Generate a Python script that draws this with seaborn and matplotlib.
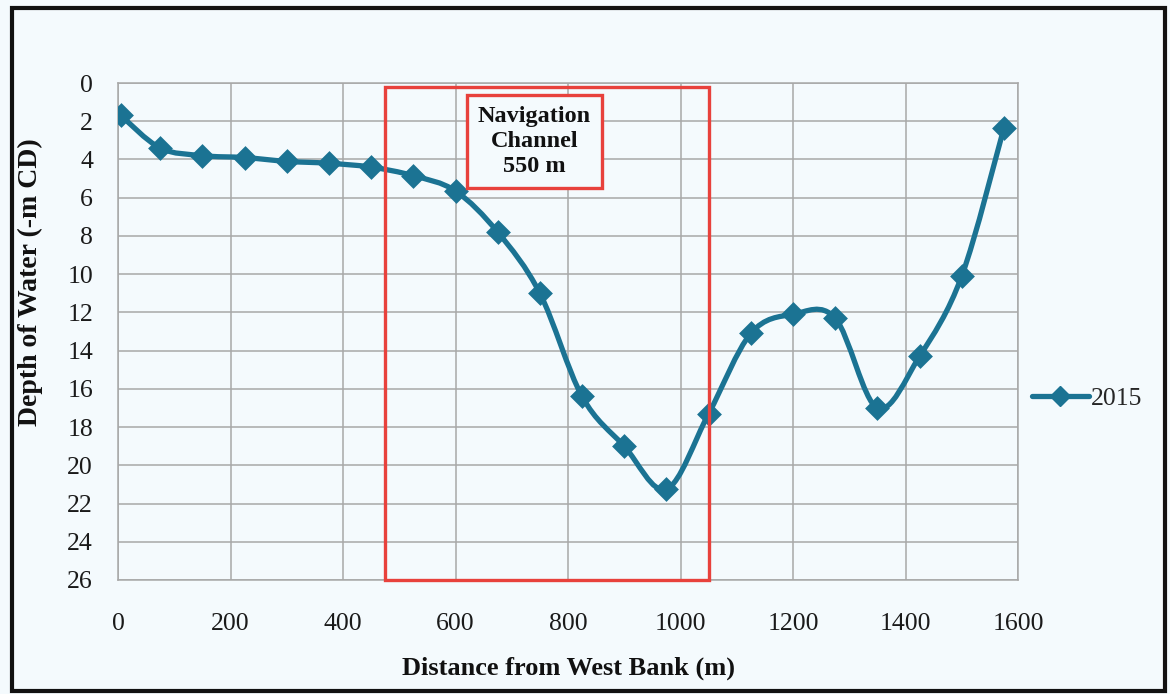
import matplotlib
matplotlib.use("Agg")
import matplotlib.pyplot as plt
import seaborn as sns
import numpy as np
import pandas as pd
from matplotlib.path import Path
from matplotlib.patches import PathPatch, Rectangle

# dados
distancia = [5, 75, 150, 225, 300, 375, 450, 525, 600, 675, 750, 825, 900, 975,
             1050, 1125, 1200, 1275, 1350, 1425, 1500, 1575]
profundidade = [1.7, 3.4, 3.8, 3.9, 4.1, 4.2, 4.4, 4.85, 5.65, 7.8, 11.0, 16.4, 19.0, 21.25,
                17.3, 13.1, 12.1, 12.3, 17.0, 14.3, 10.1, 2.35]
serie = "2015"
canal_inicio, canal_fim = 475, 1050
canal_texto = "Navigation\nChannel\n550 m"

cor_linha = "#1b7393"
cor_fundo = "#f4fafd"
cor_vermelho = "#e8413c"

sns.set_theme(style="white")
plt.rcParams['font.family'] = ['Liberation Serif', 'DejaVu Serif']

df = pd.DataFrame({"x": distancia, "y": profundidade})

fig = plt.figure(figsize=(11.7, 6.94), dpi=100, facecolor=cor_fundo)
ax = fig.add_axes([118 / 1170, 1 - 580 / 694, 900 / 1170, 497 / 694])
ax.set_facecolor(cor_fundo)

# linha suavizada (estilo Excel, Bezier tipo Catmull-Rom)
xs = np.array(distancia, dtype=float)
ys = np.array(profundidade, dtype=float)
verts = [(xs[0], ys[0])]
codes = [Path.MOVETO]
n = len(xs)
for i in range(n - 1):
    p0 = np.array([xs[max(i - 1, 0)], ys[max(i - 1, 0)]])
    p1 = np.array([xs[i], ys[i]])
    p2 = np.array([xs[i + 1], ys[i + 1]])
    p3 = np.array([xs[min(i + 2, n - 1)], ys[min(i + 2, n - 1)]])
    c1 = p1 + (p2 - p0) / 6
    c2 = p2 - (p3 - p1) / 6
    verts += [tuple(c1), tuple(c2), tuple(p2)]
    codes += [Path.CURVE4] * 3
ax.add_patch(PathPatch(Path(verts, codes), facecolor="none", edgecolor=cor_linha,
                       lw=3.8, zorder=3, capstyle="round", joinstyle="round"))

sns.scatterplot(data=df, x="x", y="y", marker="D", s=160, color=cor_linha,
                edgecolor=cor_linha, linewidth=0, ax=ax, zorder=4)

ax.set_xlim(0, 1600)
ax.set_ylim(26, 0)
ax.set_xticks(range(0, 1601, 200))
ax.set_yticks(range(0, 27, 2))
ax.grid(True, color="#a8a8a8", lw=1.1)
for s in ax.spines.values():
    s.set_color("#a8a8a8")
    s.set_linewidth(1.1)
ax.tick_params(axis="both", length=0, labelsize=18.5, colors="#1a1a1a")
ax.tick_params(axis="x", pad=24)
ax.tick_params(axis="y", pad=18)
ax.set_xlabel("Distance from West Bank (m)", fontsize=19, fontweight="bold", color="#111111")
ax.set_ylabel("Depth of Water (-m CD)", fontsize=20, fontweight="bold", color="#111111")
ax.xaxis.set_label_coords(0.5, -0.155)
ax.yaxis.set_label_coords(-0.083, 0.6)

# retângulo do canal de navegação
ax.add_patch(Rectangle((canal_inicio, 0.2), canal_fim - canal_inicio, 25.8,
                       fill=False, edgecolor=cor_vermelho, lw=2.4, zorder=5, clip_on=False))
ax.text(740, 3.05, canal_texto, ha="center", va="center", fontsize=17.5,
        fontweight="bold", color="#111111", linespacing=1.25, zorder=6,
        bbox=dict(boxstyle="square,pad=0.45", facecolor=cor_fundo,
                  edgecolor=cor_vermelho, lw=2.4))

# legenda à direita
ax.plot([], [], color=cor_linha, lw=3.8, marker="D", markersize=10, label=serie)
ax.legend(loc="center left", bbox_to_anchor=(1.0, 0.365), frameon=False,
          fontsize=18.5, handlelength=2.2, handletextpad=0.1, borderaxespad=0.15)

# moldura da figura
fig.patches.append(Rectangle((0.0103, 0.0043), 0.9854, 0.9842, transform=fig.transFigure,
                             fill=False, edgecolor="#111111", lw=3))

fig.savefig("out.png", dpi=100, facecolor=cor_fundo)
